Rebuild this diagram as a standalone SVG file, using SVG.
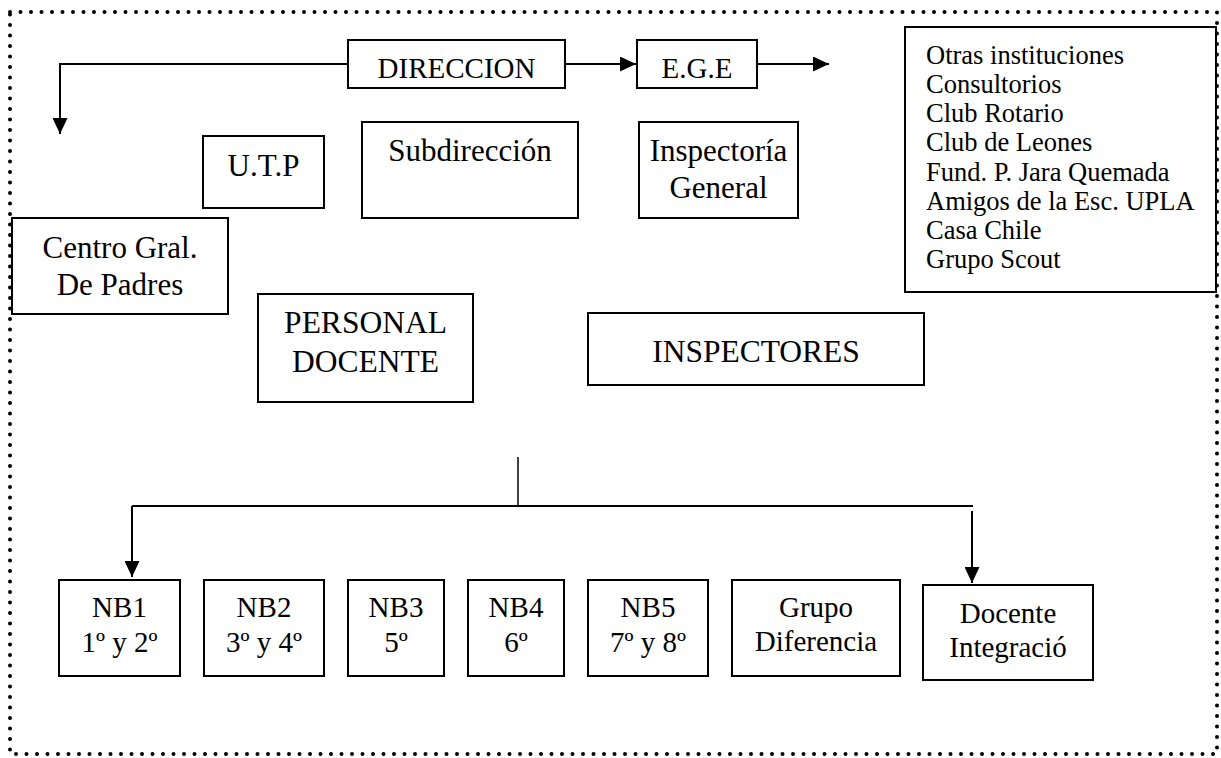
<svg xmlns="http://www.w3.org/2000/svg" width="1221" height="758" viewBox="0 0 1221 758">
<style>
.box{fill:#fff;stroke:#000;stroke-width:2}
.t{font-family:"Liberation Serif","Times New Roman",serif;fill:#000;text-anchor:middle}
.l{font-family:"Liberation Serif","Times New Roman",serif;fill:#000;font-size:26.5px}
.c{fill:none;stroke:#000;stroke-width:2}
</style>
<defs>
<marker id="ah" markerWidth="17" markerHeight="15" refX="16" refY="7.5" orient="auto" markerUnits="userSpaceOnUse">
<path d="M0,0 L16,7.5 L0,15 Z" fill="#000"/>
</marker>
</defs>
<rect x="0" y="0" width="1221" height="758" fill="#fff"/>
<rect id="border" x="10" y="12" width="1207" height="742" fill="none" stroke="#000" stroke-width="4" stroke-dasharray="0 10.5" stroke-linecap="round"/>
<g id="connectors">
<path class="c" d="M348,64 H60 V134" marker-end="url(#ah)"/>
<path class="c" d="M565,64 H636" marker-end="url(#ah)"/>
<path class="c" d="M757,64 H829" marker-end="url(#ah)"/>
<path class="c" d="M518,457 V506" style="stroke-width:1.5"/>
<path class="c" d="M132,506 H973"/>
<path class="c" d="M132,506 V577" marker-end="url(#ah)"/>
<path class="c" d="M972,511 V583" marker-end="url(#ah)"/>
</g>
<g id="direccion"><rect class="box" x="348" y="40" width="217" height="48"/><text class="t" x="456.5" y="78" font-size="29">DIRECCION</text></g>
<g id="ege"><rect class="box" x="637" y="40" width="120" height="48"/><text class="t" x="697" y="78" font-size="29">E.G.E</text></g>
<g id="utp"><rect class="box" x="203" y="136" width="121" height="72"/><text class="t" x="263.5" y="176" font-size="31">U.T.P</text></g>
<g id="subdireccion"><rect class="box" x="362" y="122" width="216" height="96"/><text class="t" x="470" y="161" font-size="31">Subdirección</text></g>
<g id="inspectoria"><rect class="box" x="639" y="122" width="159" height="96"/><text class="t" x="718.5" y="161" font-size="31">Inspectoría</text><text class="t" x="718.5" y="198" font-size="31">General</text></g>
<g id="otras"><rect class="box" x="905" y="27" width="311" height="265"/>
<text class="l" x="926" y="64">Otras instituciones</text>
<text class="l" x="926" y="93">Consultorios</text>
<text class="l" x="926" y="122">Club Rotario</text>
<text class="l" x="926" y="151">Club de Leones</text>
<text class="l" x="926" y="181">Fund. P. Jara Quemada</text>
<text class="l" x="926" y="210">Amigos de la Esc. UPLA</text>
<text class="l" x="926" y="239">Casa Chile</text>
<text class="l" x="926" y="268">Grupo Scout</text>
</g>
<g id="centro"><rect class="box" x="12" y="218" width="216" height="96"/><text class="t" x="120" y="258" font-size="31">Centro Gral.</text><text class="t" x="120" y="295" font-size="31">De Padres</text></g>
<g id="personal"><rect class="box" x="258" y="294" width="215" height="108"/><text class="t" x="365.5" y="333" font-size="31.5">PERSONAL</text><text class="t" x="365.5" y="372" font-size="31.5">DOCENTE</text></g>
<g id="inspectores"><rect class="box" x="588" y="313" width="336" height="72"/><text class="t" x="756" y="362" font-size="31.5">INSPECTORES</text></g>
<g id="nb1"><rect class="box" x="59" y="580" width="121" height="96"/><text class="t" x="119.5" y="617" font-size="29">NB1</text><text class="t" x="119.5" y="652" font-size="29">1º y 2º</text></g>
<g id="nb2"><rect class="box" x="204" y="580" width="120" height="96"/><text class="t" x="264" y="617" font-size="29">NB2</text><text class="t" x="264" y="652" font-size="29">3º y 4º</text></g>
<g id="nb3"><rect class="box" x="348" y="580" width="96" height="96"/><text class="t" x="396" y="617" font-size="29">NB3</text><text class="t" x="396" y="652" font-size="29">5º</text></g>
<g id="nb4"><rect class="box" x="468" y="580" width="96" height="96"/><text class="t" x="516" y="617" font-size="29">NB4</text><text class="t" x="516" y="652" font-size="29">6º</text></g>
<g id="nb5"><rect class="box" x="588" y="580" width="120" height="96"/><text class="t" x="648" y="617" font-size="29">NB5</text><text class="t" x="648" y="652" font-size="29">7º y 8º</text></g>
<g id="grupo"><rect class="box" x="732" y="580" width="168" height="96"/><text class="t" x="816" y="617" font-size="29">Grupo</text><text class="t" x="816" y="651" font-size="29">Diferencia</text></g>
<g id="docente"><rect class="box" x="923" y="585" width="170" height="95"/><text class="t" x="1008" y="623" font-size="29">Docente</text><text class="t" x="1008" y="657" font-size="29">Integració</text></g>
</svg>
